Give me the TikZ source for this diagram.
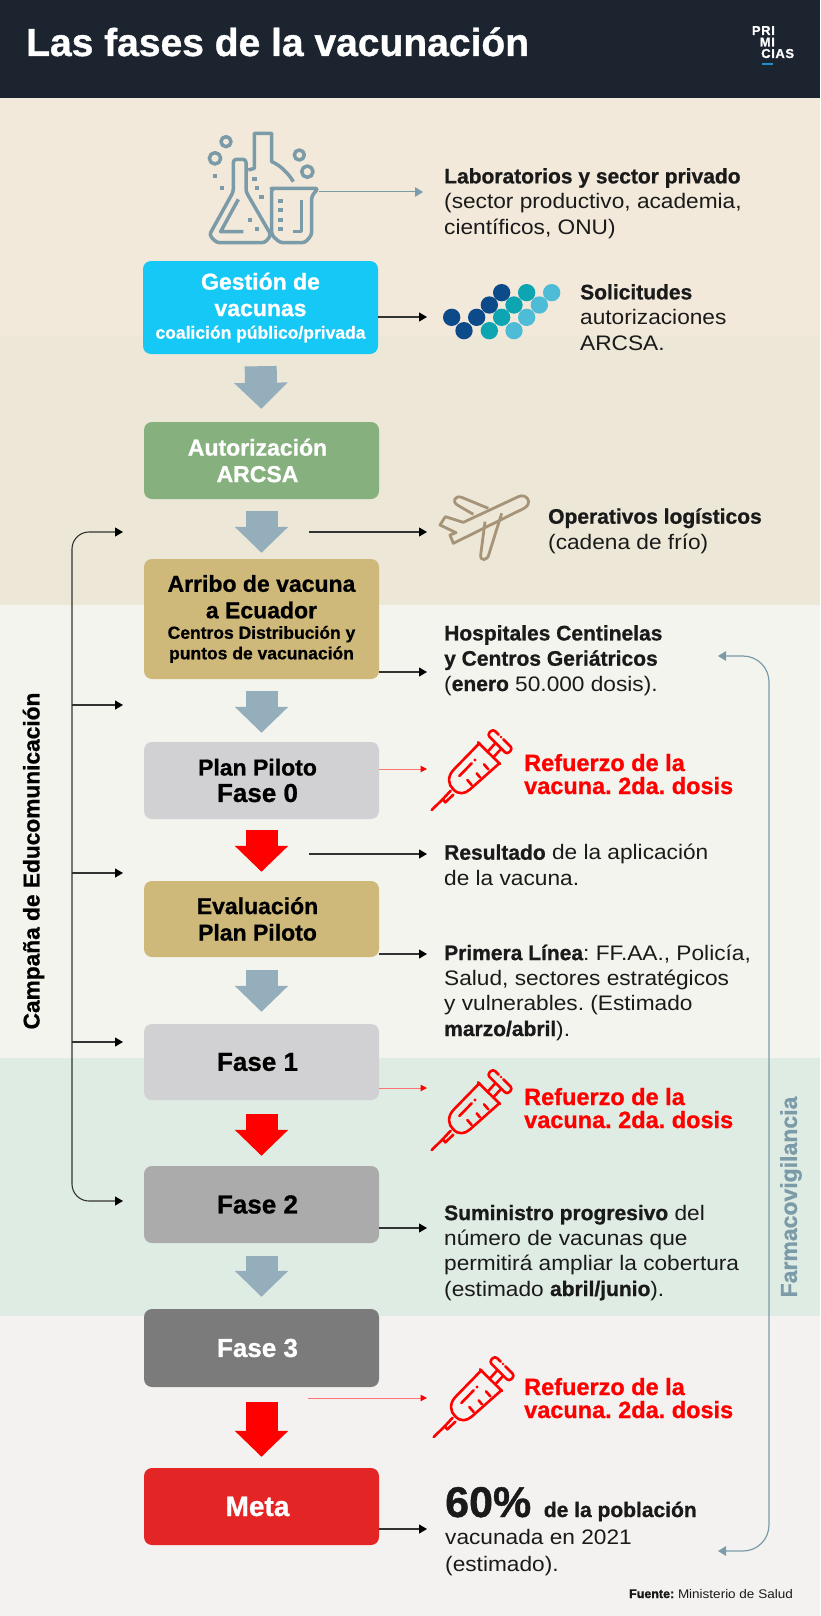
\documentclass[tikz,border=0pt]{standalone}
\usepackage{fontspec}
\setmainfont[FakeStretch=1.08, BoldFeatures={FakeStretch=1, FakeBold=0.9}]{Liberation Sans}
\usetikzlibrary{arrows.meta}

\definecolor{headerdark}{HTML}{1C2430}
\definecolor{bandsand}{HTML}{F2E9DA}
\definecolor{bandkhaki}{HTML}{ECE7D6}
\definecolor{bandpale}{HTML}{F3F4EE}
\definecolor{bandgreen}{HTML}{DFECE3}
\definecolor{bandgrey}{HTML}{F3F2F0}
\definecolor{iconblue}{HTML}{7B9BA8}
\definecolor{flowblue}{HTML}{94AEBB}
\definecolor{planebrown}{HTML}{A69478}
\definecolor{bodytext}{HTML}{1A1A1A}
\definecolor{boxcyan}{HTML}{15C8F5}
\definecolor{boxgreen}{HTML}{86B17E}
\definecolor{boxgold}{HTML}{CFB97A}
\definecolor{boxlight}{HTML}{D1D1D3}
\definecolor{boxmid}{HTML}{ABABAB}
\definecolor{boxdark}{HTML}{7B7B7B}
\definecolor{boxred}{HTML}{E32526}
\definecolor{dotone}{HTML}{0D4A8A}
\definecolor{dottwo}{HTML}{0EA5B2}
\definecolor{dotthree}{HTML}{4EBCD6}
\definecolor{logobar}{HTML}{1E8FC8}

\newcommand{\subline}{\fontsize{17.5}{20.5}\selectfont}
\newcommand{\rk}{\hspace*{8pt}}

\begin{document}
\frenchspacing
\begin{tikzpicture}[x=1pt, y=-1pt,
    % Define the styles of the boxes and texts
    phasebox/.style={rectangle, rounded corners=8pt, minimum width=235pt, align=center, inner sep=0pt},
    bigtext/.style={font=\fontsize{23}{26.5}\bfseries\selectfont},
    fasetext/.style={font=\fontsize{26}{27}\bfseries\selectfont},
    sidetext/.style={anchor=base west, align=left, inner sep=0pt, text=bodytext, font=\fontsize{21}{25.3}\selectfont},
    refuerzo/.style={anchor=base west, align=left, inner sep=0pt, text=red, font=\fontsize{23.5}{23}\bfseries\selectfont},
    logotext/.style={inner sep=0pt, text=white, font=\fontsize{13}{13}\bfseries\selectfont},
    % Define the styles of the arrows
    flowarrow/.style={line width=32pt, -{Triangle[width=52pt,length=26pt]}},
    sidearrow/.style={line width=1.1pt, draw=black!80, -{Triangle[width=9pt,length=8pt,color=black]}},
    redarrow/.style={line width=1pt, draw=red!55, -{Triangle[width=6.5pt,length=6.5pt,color=red]}},
    bluearrow/.style={line width=1.2pt, draw=iconblue, -{Triangle[width=9.5pt,length=8pt]}},
    % Define the syringe icon
    syringe/.pic={
        \begin{scope}[draw=red, line width=2.6pt, line cap=round, line join=round]
        \draw (35,270) -- (68,238);
        \draw (68,238) -- (92,212) (100,224) -- (76,247) -- (68,238);
        \draw (178,70) -- (102,148) .. controls (80,170) and (85,195) .. (100,208) .. controls (115,225) and (135,222) .. (150,208) -- (238,130);
        \draw (174,67) -- (240,132);
        \draw (203,95) -- (224,72) (220,112) -- (243,87);
        \draw[rounded corners=3pt] (250,58) -- (278,86) -- (261,103) -- (202,44) -- (219,27) -- (236,44);
        \fill[red] (243,51) circle (4);
        \draw (118,168) -- (155,130);
        \fill[red] (165,120) circle (5);
        \draw (155,195) -- (142,180) (180,172) -- (170,160) (205,148) -- (192,133);
        \end{scope}
    }
]

% Draw the bands of the background
\useasboundingbox (0,0) rectangle (820,1616);
\fill[bandgrey] (0,1316) rectangle (820,1616);
\fill[bandgreen] (0,1058) rectangle (820,1316);
\fill[bandpale] (0,605) rectangle (820,1058);
\fill[bandkhaki] (0,336) rectangle (820,605);
\fill[bandsand] (0,98) rectangle (820,336);
\fill[headerdark] (0,0) rectangle (820,98);

% Add the title and the logo
\node[anchor=base west, inner sep=0pt, text=white, font=\fontsize{39}{39}\bfseries\selectfont] (title) at (26,56) {Las fases de la vacunación};
\node[logotext, anchor=base east] (logoa) at (775,35) {P\kern.6pt R\kern.6pt I};
\node[logotext, anchor=base east] (logob) at (775,46.5) {M\kern.6pt I};
\node[logotext, anchor=base west] (logoc) at (761,58) {C\kern.6pt I\kern.6pt A\kern.6pt S};
\fill[logobar] (762,63.5) rectangle (773,65.5);

% Add the phase boxes
\node[phasebox, fill=boxcyan, text=white, minimum height=93pt, bigtext] (gestion) at (260.5,307.5) {Gestión de\\vacunas\\[-4pt]{\subline coalición público/privada}};
\node[phasebox, fill=boxgreen, text=white, minimum height=77pt, bigtext] (autorizacion) at (261.5,460.5) {Autorización\rk\\ARCSA\rk};
\node[phasebox, fill=boxgold, minimum height=120pt, bigtext] (arribo) at (261.5,619) {Arribo de vacuna\\a Ecuador\\[-6pt]{\subline Centros Distribución y}\\[-6pt]{\subline puntos de vacunación}};
\node[phasebox, fill=boxlight, minimum height=77pt, bigtext] (plan) at (261.5,780.5) {Plan Piloto\rk\\{\fontsize{26}{27}\selectfont Fase 0}\rk};
\node[phasebox, fill=boxgold, minimum height=76pt, bigtext] (evaluacion) at (261.5,919) {Evaluación\rk\\Plan Piloto\rk};
\node[phasebox, fill=boxlight, minimum height=76pt, fasetext] (faseuno) at (261.5,1062) {Fase 1\rk};
\node[phasebox, fill=boxmid, minimum height=77pt, fasetext] (fasedos) at (261.5,1204.5) {Fase 2\rk};
\node[phasebox, fill=boxdark, text=white, minimum height=78pt, fasetext] (fasetres) at (261.5,1348) {Fase 3\rk};
\node[phasebox, fill=boxred, text=white, minimum height=77pt, font=\fontsize{28}{29}\bfseries\selectfont] (meta) at (261.5,1506.5) {Meta\rk};

% Draw the big arrows between the boxes
\foreach \a/\b/\sa/\sb/\col in {gestion/autorizacion/12/13/flowblue, autorizacion/arribo/12/6/flowblue, arribo/plan/12/9/flowblue, plan/evaluacion/11/9/red, evaluacion/faseuno/13/12/flowblue, faseuno/fasedos/14/10/red, fasedos/fasetres/13/12/flowblue, fasetres/meta/15/11/red}
    \draw[flowarrow, draw=\col, shorten <=\sa pt, shorten >=\sb pt] (\a.south) -- (\b.north);

% Add the side texts
\node[sidetext] (labtext) at (444,234) {\textbf{Laboratorios y sector privado}\\(sector productivo, academia,\\científicos, ONU)};
\node[sidetext] (soltext) at (580,350) {\textbf{Solicitudes}\\autorizaciones\\ARCSA.};
\node[sidetext] (logtext) at (548,549) {\textbf{Operativos logísticos}\\(cadena de frío)};
\node[sidetext] (hostext) at (444,691) {\textbf{Hospitales Centinelas}\\\textbf{y Centros Geriátricos}\\(\textbf{enero} 50.000 dosis).};
\node[sidetext] (restext) at (444,885) {\textbf{Resultado} de la aplicación\\de la vacuna.};
\node[sidetext] (pritext) at (444,1036) {\textbf{Primera Línea}: FF.AA., Policía,\\Salud, sectores estratégicos\\y vulnerables. (Estimado\\\textbf{marzo/abril}).};
\node[sidetext] (sumtext) at (444,1296) {\textbf{Suministro progresivo} del\\número de vacunas que\\permitirá ampliar la cobertura\\(estimado \textbf{abril/junio}).};
\node[sidetext, font=\fontsize{21}{27}\selectfont] (metatext) at (445,1571) {{\fontsize{43}{43}\bfseries\selectfont 60\%}\ \ \textbf{de la población}\\vacunada en 2021\\(estimado).};
\node[anchor=base east, inner sep=0pt, text=bodytext, font=\fontsize{12.5}{15}\selectfont] (fuente) at (793,1598) {\textbf{Fuente:} Ministerio de Salud};
\node[refuerzo] (refa) at (524,794) {Refuerzo de la\\vacuna. 2da. dosis};
\node[refuerzo] (refb) at (524,1128) {Refuerzo de la\\vacuna. 2da. dosis};
\node[refuerzo] (refc) at (524,1418) {Refuerzo de la\\vacuna. 2da. dosis};

% Add the rotated labels
\node[rotate=90, inner sep=0pt, font=\fontsize{22.7}{24}\bfseries\selectfont] (campana) at (33.5,861) {Campaña de Educomunicación};
\node[rotate=90, inner sep=0pt, text=iconblue, font=\fontsize{23}{24}\bfseries\selectfont] (farmaco) at (791,1197) {Farmacovigilancia};

% Define the free ends of the side arrows
\coordinate (labstart) at (319,192);
\coordinate (labtip) at (423,192);
\coordinate (soltip) at (427,317);
\coordinate (logstart) at (309,532);
\coordinate (logtip) at (427,532);
\coordinate (hostip) at (427,672);
\coordinate (plantip) at (427,769);
\coordinate (resstart) at (309,854);
\coordinate (restip) at (427,854);
\coordinate (pritip) at (427,954);
\coordinate (unotip) at (427,1088);
\coordinate (sumtip) at (427,1228);
\coordinate (tresstart) at (308,1398);
\coordinate (trestip) at (427,1398);
\coordinate (metatip) at (427,1529);

% Draw the side arrows
\draw[bluearrow, line width=1pt] (labstart) -- (labtip);
\draw[sidearrow] (gestion.east |- soltip) -- (soltip);
\draw[sidearrow] (logstart) -- (logtip);
\draw[sidearrow] (arribo.east |- hostip) -- (hostip);
\draw[redarrow] (plan.east |- plantip) -- (plantip);
\draw[sidearrow] (resstart) -- (restip);
\draw[sidearrow] (evaluacion.east |- pritip) -- (pritip);
\draw[redarrow] (faseuno.east |- unotip) -- (unotip);
\draw[sidearrow] (fasedos.east |- sumtip) -- (sumtip);
\draw[redarrow] (tresstart) -- (trestip);
\draw[sidearrow] (meta.east |- metatip) -- (metatip);

% Draw the campaign bracket
\coordinate (edutop) at (123,532);
\coordinate (edua) at (123,705);
\coordinate (edub) at (123,873);
\coordinate (educ) at (123,1042);
\coordinate (edubot) at (123,1201);
\coordinate (spine) at (72,861);
\draw[sidearrow, rounded corners=17pt] (spine) |- (edutop);
\draw[sidearrow, rounded corners=17pt] (spine) |- (edubot);
\foreach \c in {edua, edub, educ}
    \draw[sidearrow] (spine |- \c) -- (\c);

% Draw the farmacovigilancia bracket
\coordinate (farmatop) at (718,656);
\coordinate (farmabot) at (718,1551);
\coordinate (farmaline) at (769,1100);
\draw[bluearrow, rounded corners=26pt] (farmaline) |- (farmatop);
\draw[bluearrow, rounded corners=26pt] (farmaline) |- (farmabot);

% Draw the laboratory icon
\begin{scope}[shift={(200,120)}, scale=1/3, draw=iconblue, line width=3.5pt, line join=round]
\draw (145,150) -- (163,145) -- (163,40) -- (215,40) -- (215,125) .. controls (240,135) and (265,160) .. (280,185);
\draw[rounded corners=3pt] (100,118) -- (138,118) -- (138,215) -- (213,345) -- (195,368) -- (50,368) -- (28,345) -- (100,215) -- cycle;
\draw (115,238) -- (62,335) -- (130,335);
\draw[rounded corners=3pt] (222,205) -- (355,205) -- (335,228) -- (335,345) -- (315,368) -- (240,368) -- (215,345) -- (215,205) -- cycle;
\draw (305,240) -- (305,335) -- (280,335);
\foreach \x/\y/\r in {78/65/15, 45/115/17, 298/105/15, 322/155/17}
    \draw (\x,\y) circle (\r);
\foreach \x/\y in {45/168, 66/203, 163/176, 171/204, 185/232, 150/301, 171/328, 242/244, 242/271, 242/300, 242/327}
    \fill[iconblue] (\x-7,\y-6) rectangle (\x+7,\y+6);
\end{scope}

% Draw the dots of the logo
\begin{scope}[shift={(430,270)}, scale=1/3]
\foreach \x/\y/\col in {65/142/dotone, 102/182/dotone, 140/142/dotone, 178/105/dotone, 215/68/dotone, 178/182/dottwo, 215/142/dottwo, 252/105/dottwo, 290/68/dottwo, 252/182/dotthree, 290/142/dotthree, 328/105/dotthree, 365/68/dotthree}
    \fill[\col] (\x,\y) circle (26);
\end{scope}

% Draw the plane
\begin{scope}[shift={(420,480)}, scale=1/3, draw=planebrown, line width=2.8pt, line join=round]
\draw (60,135) -- (76,110) -- (130,127) -- (295,50) .. controls (320,38) and (340,70) .. (312,85) -- (100,190) -- (90,165) -- (108,158) -- cycle;
\draw (205,85) -- (125,52) .. controls (105,45) and (95,65) .. (112,75) -- (160,103);
\draw (195,125) -- (182,225) .. controls (180,245) and (203,242) .. (207,222) -- (245,100);
\end{scope}

% Draw the syringes
\pic[scale=1/3] at (420,720) {syringe};
\pic[scale=1/3] at (420,1060) {syringe};
\pic[scale=1/3] at (422,1347) {syringe};

\end{tikzpicture}
\end{document}
